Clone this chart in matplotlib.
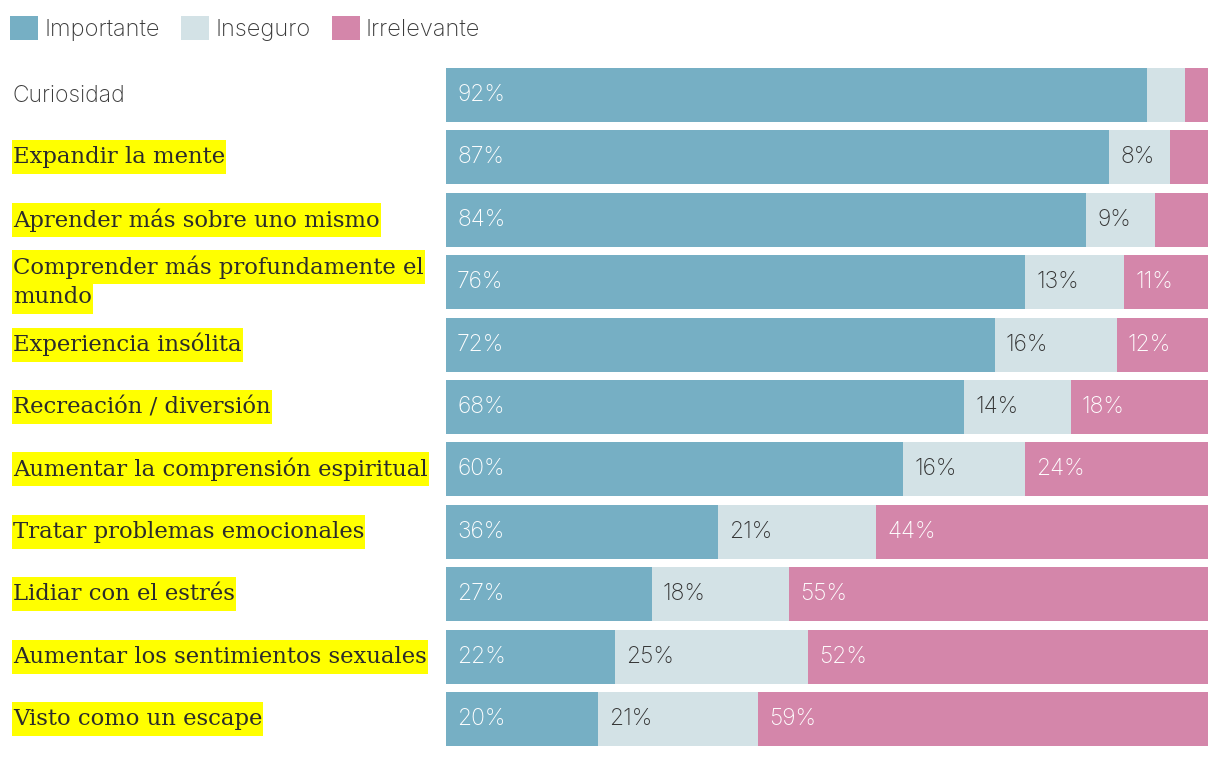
import matplotlib.pyplot as plt
import matplotlib.transforms as mtransforms
from matplotlib.patches import Rectangle
import numpy as np

labels = ["Curiosidad", "Expandir la mente", "Aprender más sobre uno mismo",
          "Comprender más profundamente el\nmundo", "Experiencia insólita",
          "Recreación / diversión", "Aumentar la comprensión espiritual",
          "Tratar problemas emocionales", "Lidiar con el estrés",
          "Aumentar los sentimientos sexuales", "Visto como un escape"]
importante = [92, 87, 84, 76, 72, 68, 60, 36, 27, 22, 20]
inseguro = [5, 8, 9, 13, 16, 14, 16, 21, 18, 25, 21]
irrelevante = [3, 5, 7, 11, 12, 18, 24, 44, 55, 52, 59]

series = [("Importante", importante, "#76afc4", "white"),
          ("Inseguro", inseguro, "#d3e2e6", "#333333"),
          ("Irrelevante", irrelevante, "#d486aa", "white")]

SANS = "Inter"
W, H = 1220, 758
fig = plt.figure(figsize=(W / 100, H / 100), dpi=100)
ax = fig.add_axes([446 / W, 1 - 746 / H, (1208 - 446) / W, (746 - 68) / H])

totals = np.array(importante) + np.array(inseguro) + np.array(irrelevante)
y = np.arange(len(labels))
h = 0.865
left = np.zeros(len(labels))
for name, vals, color, tcolor in series:
    share = np.array(vals) / totals * 100
    ax.barh(y, share, left=left, height=h, color=color, label=name)
    for yi, l, v in zip(y, left, vals):
        if v >= 8:
            ax.annotate(f"{v}%", (l, yi), xytext=(8, 0), textcoords="offset points",
                        va="center", ha="left", color=tcolor, fontsize=16.5,
                        family=SANS, fontweight="light")
    left += share

ax.set_xlim(0, 100)
ax.set_ylim(len(labels) - 1 + h / 2, -h / 2)
ax.axis("off")

# category labels on the left, highlighted like a marker pen
tr = mtransforms.blended_transform_factory(fig.transFigure, ax.transData)
marked = []
for yi, lab in zip(y, labels):
    if lab == "Curiosidad":
        ax.text(12 / W, yi + 0.02, lab, transform=tr, fontsize=16.5,
                color="#3a3a3a", family=SANS, fontweight="light", va="center")
        continue
    lines = lab.split("\n")
    offs = [0] if len(lines) == 1 else [-0.24, 0.24]
    for line, o in zip(lines, offs):
        t = ax.text(13 / W, yi + o, line, transform=tr, fontsize=16.4, color="#2b2b2b",
                    family="DejaVu Serif", va="center", ha="left", zorder=5)
        marked.append(t)

fig.canvas.draw()
renderer = fig.canvas.get_renderer()
for t in marked:
    bb = t.get_window_extent(renderer)
    cy = (bb.y0 + bb.y1) / 2
    fig.add_artist(Rectangle((bb.x0 - 1, cy - 17), bb.width + 2, 34, facecolor="#ffff00",
                             edgecolor="none", transform=mtransforms.IdentityTransform(),
                             zorder=1))
for t in marked:
    t.remove()
    fig.add_artist(t)
    t.set_zorder(6)

fig.legend(loc="upper left", bbox_to_anchor=(10 / W, 1 - 16 / H), ncol=3, frameon=False,
           handlelength=1.2, handleheight=1.2, handletextpad=0.25, columnspacing=0.9,
           prop={"family": SANS, "weight": "light", "size": 17},
           labelcolor="#3a3a3a", borderaxespad=0, borderpad=0)

fig.savefig("out.png", dpi=100)
